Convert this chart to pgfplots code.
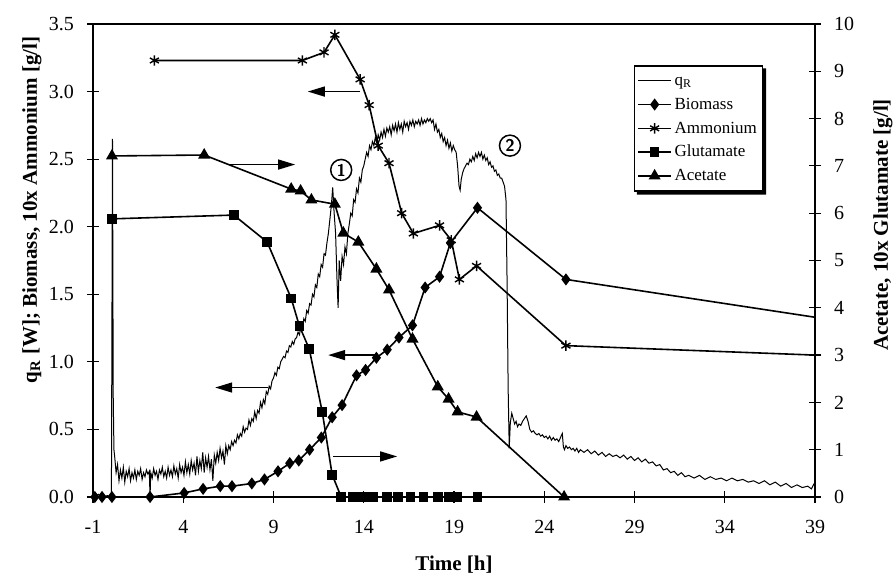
\documentclass[border=0pt]{standalone}
\usepackage{fontspec}
\setmainfont{Liberation Serif}
\usepackage{pgfplots}
\pgfplotsset{compat=1.18}
\usetikzlibrary{arrows.meta}

\pgfplotsset{
  base/.style={
    scale only axis, width=361pt, height=236.5pt,
    at={(0,0)}, anchor=south west,
    xmin=-1, xmax=39,
    axis line style={line width=0.75pt},
    major tick style={line width=0.6pt, black},
    major tick length=6pt,
    tick align=center,
    tick label style={font=\fontsize{10}{12}\selectfont},
    /pgf/number format/assume math mode=true,
    label style={font=\bfseries\fontsize{10.5}{12}\selectfont},
  },
  qr/.style={black, line width=0.5pt, no marks},
  biom/.style={black, line width=0.8pt, mark=diamond*, mark size=2.4pt},
  ammo/.style={black, line width=0.8pt, mark=asterisk, mark size=2.6pt, mark options={line width=0.7pt}},
  glut/.style={black, line width=0.8pt, mark=square*, mark size=2pt},
  acet/.style={black, line width=0.8pt, mark=triangle*, mark size=2.7pt},
}

\begin{document}
\begin{tikzpicture}
\useasboundingbox (-46.5pt,-42pt) rectangle (400pt,248.5pt);

\begin{axis}[base,
  ymin=0, ymax=3.5,
  ytick={0,0.5,1,1.5,2,2.5,3,3.5},
  yticklabel style={/pgf/number format/fixed, /pgf/number format/fixed zerofill, /pgf/number format/precision=1, xshift=-3pt},
  xtick={-1,4,9,14,19,24,29,34,39},
  xtick pos=bottom, ytick pos=left,
  xticklabel style={yshift=-5pt},
  xlabel={Time [h]},
  ylabel={q\textsubscript{R} [W]; Biomass, 10x Ammonium [g/l]},
  xlabel style={at={(axis description cs:0.5,-0.144)}, anchor=center},
  ylabel style={at={(axis description cs:-0.0845,0.607)}, anchor=center},
]

% heat flow q_R
\addplot[qr] coordinates {
(-1,0.0)(-0.7,0.02)(-0.5,0.0)(-0.2,0.01)(0.02,0.0)(0.08,2.65)(0.12,0.75)(0.16,0.35)
(0.20,0.30)(0.28,0.18)(0.36,0.24)(0.44,0.12)(0.52,0.20)(0.60,0.14)(0.68,0.22)(0.76,0.11)
(0.84,0.19)(0.92,0.15)(1.00,0.21)(1.08,0.12)(1.16,0.18)(1.24,0.14)(1.32,0.20)(1.40,0.13)
(1.48,0.19)(1.56,0.16)(1.64,0.21)(1.72,0.13)(1.80,0.18)(1.88,0.15)(1.96,0.20)(2.04,0.17)
(2.12,0.19)(2.16,0.0)(2.20,0.18)(2.28,0.14)(2.36,0.21)(2.44,0.16)(2.52,0.19)(2.60,0.13)
(2.68,0.20)(2.76,0.17)(2.84,0.22)(2.92,0.15)(3.00,0.19)(3.08,0.14)(3.16,0.22)(3.24,0.16)
(3.32,0.20)(3.40,0.15)(3.48,0.23)(3.56,0.17)(3.64,0.21)(3.72,0.14)(3.80,0.24)(3.88,0.18)
(3.96,0.22)(4.04,0.16)(4.12,0.26)(4.20,0.18)(4.28,0.24)(4.36,0.17)(4.44,0.27)(4.52,0.20)
(4.60,0.25)(4.68,0.16)(4.76,0.30)(4.84,0.19)(4.92,0.27)(5.00,0.21)(5.08,0.33)(5.16,0.18)
(5.24,0.29)(5.32,0.22)(5.40,0.30)(5.48,0.20)(5.56,0.28)(5.64,0.12)(5.72,0.31)(5.80,0.25)
(5.88,0.33)(5.96,0.27)(6.04,0.36)(6.12,0.29)(6.20,0.34)(6.28,0.24)(6.36,0.38)(6.44,0.32)
(6.52,0.38)(6.60,0.35)(6.68,0.41)(6.76,0.38)(6.84,0.42)(6.92,0.40)(7.00,0.46)(7.08,0.43)
(7.16,0.47)(7.24,0.45)(7.32,0.52)(7.40,0.48)(7.48,0.51)(7.56,0.50)(7.64,0.57)(7.72,0.53)
(7.80,0.58)(7.88,0.56)(7.96,0.63)(8.04,0.58)(8.12,0.64)(8.20,0.62)(8.28,0.70)(8.36,0.66)
(8.44,0.72)(8.52,0.69)(8.60,0.78)(8.68,0.76)(8.76,0.82)(8.84,0.80)(8.92,0.86)(9.00,0.88)
(9.08,0.92)(9.16,0.90)(9.24,0.96)(9.32,0.95)(9.40,1.00)(9.48,1.02)(9.56,1.04)(9.64,1.03)
(9.72,1.08)(9.80,1.07)(9.88,1.12)(9.96,1.11)(10.04,1.15)(10.12,1.13)(10.20,1.17)(10.28,1.18)
(10.36,1.22)(10.44,1.20)(10.52,1.27)(10.60,1.24)(10.68,1.32)(10.76,1.30)(10.84,1.38)(10.92,1.36)
(11.00,1.43)(11.08,1.42)(11.16,1.50)(11.24,1.48)(11.32,1.57)(11.40,1.55)(11.48,1.65)(11.56,1.63)
(11.64,1.72)(11.72,1.70)(11.80,1.80)(11.88,1.79)(11.96,1.88)(12.04,1.95)(12.12,2.05)(12.20,2.15)
(12.28,2.29)(12.36,2.10)(12.44,1.95)(12.52,1.60)(12.58,1.40)(12.64,1.75)(12.72,1.60)(12.80,1.78)
(12.88,1.72)(12.96,1.85)(13.04,1.80)(13.12,1.95)(13.20,2.02)(13.28,2.10)(13.36,2.08)(13.44,2.20)
(13.52,2.18)(13.60,2.28)(13.68,2.25)(13.76,2.36)(13.84,2.33)(13.92,2.42)(14.00,2.45)(14.08,2.50)
(14.16,2.55)(14.24,2.52)(14.32,2.60)(14.40,2.57)(14.48,2.63)(14.56,2.60)(14.64,2.66)(14.72,2.62)
(14.80,2.68)(14.88,2.64)(14.96,2.70)(15.04,2.66)(15.12,2.72)(15.20,2.67)(15.28,2.73)(15.36,2.70)
(15.44,2.74)(15.52,2.68)(15.60,2.75)(15.68,2.71)(15.76,2.76)(15.84,2.70)(15.92,2.77)(16.00,2.72)
(16.08,2.76)(16.16,2.70)(16.24,2.78)(16.32,2.74)(16.40,2.77)(16.48,2.72)(16.56,2.78)(16.64,2.75)
(16.72,2.79)(16.80,2.74)(16.88,2.78)(16.96,2.76)(17.04,2.79)(17.12,2.75)(17.20,2.80)(17.28,2.76)
(17.36,2.79)(17.44,2.77)(17.52,2.80)(17.60,2.78)(17.68,2.80)(17.76,2.77)(17.84,2.79)(17.92,2.72)
(18.00,2.76)(18.08,2.70)(18.16,2.72)(18.24,2.66)(18.32,2.69)(18.40,2.63)(18.48,2.66)(18.56,2.60)
(18.64,2.64)(18.72,2.58)(18.80,2.62)(18.88,2.56)(18.96,2.60)(19.04,2.57)(19.12,2.55)(19.20,2.45)
(19.28,2.30)(19.34,2.27)(19.40,2.35)(19.48,2.40)(19.56,2.43)(19.64,2.45)(19.72,2.47)(19.80,2.46)
(19.88,2.50)(19.96,2.48)(20.04,2.52)(20.12,2.49)(20.20,2.54)(20.28,2.51)(20.36,2.55)(20.44,2.52)
(20.52,2.55)(20.60,2.50)(20.68,2.53)(20.76,2.49)(20.84,2.51)(20.92,2.46)(21.00,2.48)(21.08,2.44)
(21.16,2.45)(21.24,2.41)(21.32,2.42)(21.40,2.38)(21.48,2.39)(21.56,2.36)(21.64,2.36)(21.72,2.33)
(21.80,2.30)(21.88,2.20)(21.94,1.60)(22.00,0.80)(22.06,0.36)(22.12,0.55)(22.20,0.62)(22.28,0.58)
(22.36,0.54)(22.44,0.56)(22.52,0.52)(22.60,0.54)(22.70,0.53)(22.80,0.56)(22.90,0.58)(23.00,0.60)
(23.10,0.56)(23.20,0.50)(23.30,0.48)(23.40,0.49)(23.50,0.47)(23.60,0.46)(23.70,0.47)(23.80,0.45)
(23.90,0.46)(24.00,0.44)(24.10,0.45)(24.20,0.43)(24.30,0.45)(24.40,0.42)(24.50,0.44)(24.60,0.42)
(24.70,0.43)(24.80,0.41)(24.90,0.44)(25.00,0.47)(25.06,0.37)(25.12,0.35)(25.20,0.38)(25.30,0.36)
(25.40,0.37)(25.50,0.35)(25.60,0.36)(25.70,0.34)(25.80,0.36)(25.90,0.33)(26.00,0.35)(26.2,0.33)
(26.4,0.35)(26.6,0.32)(26.8,0.34)(27.0,0.31)(27.2,0.33)(27.4,0.30)(27.6,0.32)(27.8,0.30)
(28.0,0.31)(28.2,0.29)(28.4,0.31)(28.6,0.28)(28.8,0.30)(29.0,0.27)(29.2,0.29)(29.4,0.26)
(29.6,0.28)(29.8,0.25)(30.0,0.26)(30.2,0.23)(30.4,0.24)(30.6,0.20)(30.8,0.21)(31.0,0.18)
(31.2,0.19)(31.4,0.16)(31.6,0.18)(31.8,0.15)(32.0,0.16)(32.3,0.14)(32.6,0.16)(32.9,0.13)
(33.2,0.15)(33.5,0.13)(33.8,0.14)(34.1,0.12)(34.4,0.14)(34.7,0.12)(35.0,0.13)(35.3,0.11)
(35.6,0.12)(35.9,0.10)(36.2,0.12)(36.5,0.09)(36.8,0.11)(37.1,0.08)(37.4,0.10)(37.7,0.07)
(38.0,0.09)(38.3,0.07)(38.6,0.08)(38.8,0.06)(38.95,0.10)};

% biomass
\addplot[biom] coordinates {
(-0.9,0)(-0.5,0)(0.05,0)(2.16,0)(4.05,0.03)(5.1,0.06)(6.05,0.08)(6.7,0.08)
(7.8,0.10)(8.5,0.13)(9.25,0.19)(9.9,0.25)(10.4,0.27)(11.0,0.35)(11.65,0.44)(12.25,0.59)
(12.8,0.68)(13.6,0.90)(14.1,0.94)(14.7,1.03)(15.3,1.09)(15.95,1.18)(16.7,1.27)(17.4,1.55)
(18.2,1.63)(18.8,1.88)(20.3,2.14)(25.2,1.61)};
\addplot[biom, no marks, forget plot] coordinates {(25.2,1.61)(39,1.33)};

% ammonium x10
\addplot[ammo] coordinates {
(2.4,3.23)(10.6,3.23)(11.8,3.29)(12.4,3.42)(13.8,3.09)(14.3,2.90)(14.8,2.60)(15.4,2.47)
(16.1,2.10)(16.75,1.95)(18.2,2.01)(18.85,1.90)(19.3,1.61)(20.25,1.71)(25.2,1.12)};
\addplot[ammo, no marks, forget plot] coordinates {(25.2,1.12)(39,1.05)};

% annotations
\draw[-{Triangle[length=8.5pt,width=5pt]}, line width=0.7pt] (axis cs:13.8,3.0) -- (axis cs:10.9,3.0);
\draw[-{Triangle[length=8.5pt,width=5pt]}, line width=0.7pt] (axis cs:6.5,2.46) -- (axis cs:10.2,2.46);
\draw[-{Triangle[length=8.5pt,width=5pt]}, line width=0.7pt] (axis cs:8.7,0.81) -- (axis cs:5.77,0.81);
\draw[-{Triangle[length=8.5pt,width=5pt]}, line width=0.7pt] (axis cs:14.75,1.05) -- (axis cs:12.03,1.05);
\draw[-{Triangle[length=8.5pt,width=5pt]}, line width=0.7pt] (axis cs:12.3,0.30) -- (axis cs:15.85,0.30);
\node[circle, draw, line width=0.75pt, inner sep=0.5pt, minimum size=10.5pt, font=\sffamily\bfseries\fontsize{8.5}{9}\selectfont] at (axis cs:12.75,2.42) {1};
\node[circle, draw, line width=0.75pt, inner sep=0.5pt, minimum size=10.5pt, font=\sffamily\bfseries\fontsize{8.5}{9}\selectfont] at (axis cs:22.1,2.60) {2};
\end{axis}

\begin{axis}[base,
  ymin=0, ymax=10,
  ytick={0,1,2,3,4,5,6,7,8,9,10},
  axis y line*=right, axis x line=none,
  yticklabel style={xshift=3pt},
  ylabel={Acetate, 10x Glutamate [g/l]},
  ylabel style={at={(axis description cs:1.094,0.575)}, anchor=center, rotate=0},
  legend image code/.code={\draw[mark repeat=2, mark phase=2, #1] plot coordinates {(0cm,0cm) (0.29cm,0cm) (0.58cm,0cm)};},
  legend style={name=leg, at={(0.928,0.913)}, anchor=north east, draw=black, line width=0.7pt,
    fill=white, font=\fontsize{8.5}{10}\selectfont, inner sep=1.5pt, row sep=0pt,
    nodes={inner sep=1.3pt, text height=7pt, text depth=2.3pt},
    cells={anchor=west}},
]
\addlegendimage{qr}
\addlegendentry{q\textsubscript{R}}
\addlegendimage{biom}
\addlegendentry{Biomass}
\addlegendimage{ammo}
\addlegendentry{Ammonium}

% glutamate x10
\addplot[glut] coordinates {
(0.05,5.88)(6.8,5.96)(8.65,5.39)(9.98,4.20)(10.43,3.62)(10.98,3.13)(11.7,1.80)(12.25,0.47)
(12.75,0)(13.4,0)(13.8,0)(14.2,0)(14.5,0)(15.3,0)(15.9,0)(16.6,0)(17.3,0)(18.1,0)
(18.7,0)(19.2,0)(20.3,0)};
\addlegendentry{Glutamate}
\addplot[glut, no marks, forget plot] coordinates {(20.3,0)(39,0)};

% acetate
\addplot[acet] coordinates {
(0.05,7.21)(5.16,7.23)(9.98,6.51)(10.5,6.47)(11.1,6.28)(12.4,6.19)(12.87,5.58)(13.7,5.39)
(14.7,4.82)(15.4,4.38)(16.7,3.34)(18.1,2.33)(18.7,2.07)(19.2,1.80)(20.25,1.69)(25.1,0)};
\addlegendentry{Acetate}
\addplot[acet, no marks, forget plot] coordinates {(25.1,0)(39,0)};
\end{axis}

% legend shadow (right and bottom edge)
\fill[black] ([yshift=-1.6pt]leg.north east) -- ([shift={(1.6pt,-1.6pt)}]leg.north east)
  -- ([shift={(1.6pt,-1.6pt)}]leg.south east) -- ([shift={(1.6pt,-1.6pt)}]leg.south west)
  -- ([xshift=1.6pt]leg.south west) -- (leg.south east) -- cycle;
\end{tikzpicture}
\end{document}
